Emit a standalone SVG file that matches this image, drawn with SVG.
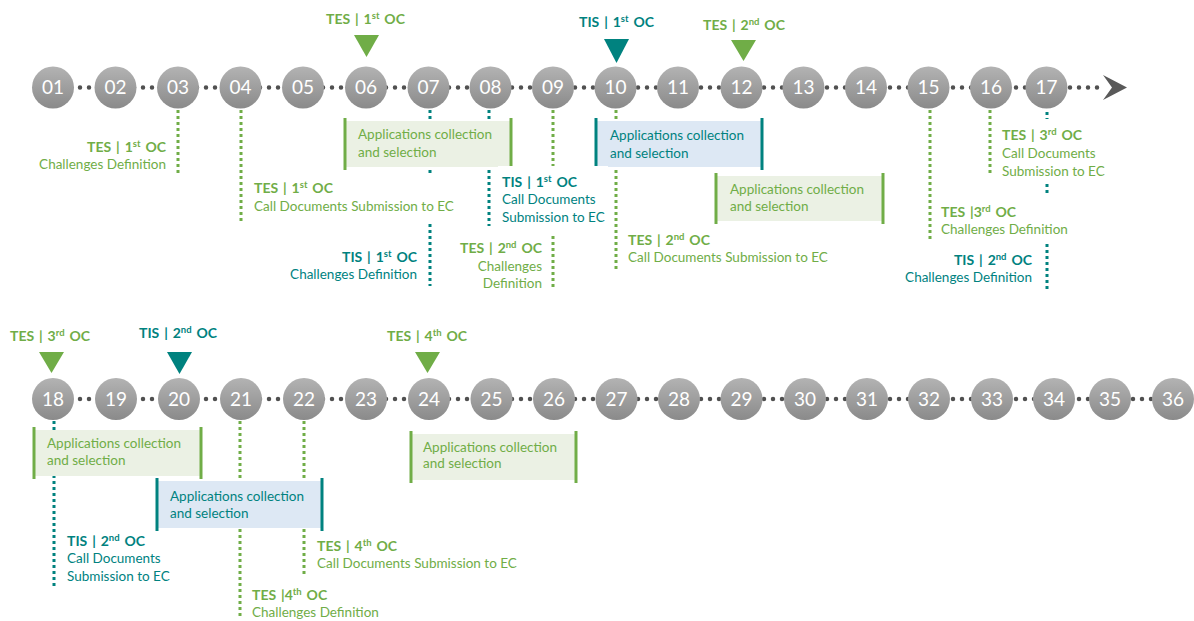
<svg xmlns="http://www.w3.org/2000/svg" width="1194" height="621" viewBox="0 0 1194 621">
  <defs>
    <linearGradient id="ball" x1="0" y1="0" x2="0" y2="1">
      <stop offset="0" stop-color="#b3b3b3"/>
      <stop offset="1" stop-color="#8a8a8a"/>
    </linearGradient>
    <style>
      text { font-family: Lato, "Open Sans", "Liberation Sans", sans-serif; }
      .num { fill: #ffffff; font-size: 19px; text-anchor: middle; }
      .track { stroke: #505050; stroke-width: 4.5; stroke-linecap: round; stroke-dasharray: 0 9; fill: none; }
      .vg { stroke: #70ad47; stroke-width: 3; stroke-dasharray: 3 3; fill: none; }
      .vt { stroke: #00827f; stroke-width: 3; stroke-dasharray: 3 3; fill: none; }
      .tg { fill: #70ad47; font-size: 13.5px; }
      .tt { fill: #00827f; font-size: 13.5px; }
      .b { font-weight: bold; font-size: 14px; word-spacing: 1.5px; }
      .end { text-anchor: end; }
      .sup { font-size: 9.5px; }
      .bg { fill: #ffffff; }
      .fillg { fill: #ebf1e4; }
      .fillb { fill: #dde8f4; }
      .edgeg { stroke: #70ad47; stroke-width: 3; }
      .edget { stroke: #00827f; stroke-width: 3; }
      .trig { fill: #70ad47; }
      .trit { fill: #00827f; }
    </style>
  </defs>

  <rect width="1194" height="621" fill="#ffffff"/>

  <!-- month tracks and drop lines -->
  <g id="connectors">
    <line class="track" x1="53" y1="87.5" x2="1101" y2="87.5"/>
    <polygon points="1103,75 1127,87.5 1103,100 1112,87.5" fill="#595959"/>
    <line class="track" x1="53" y1="399" x2="1173" y2="399"/>

    <line class="vg" x1="178" y1="110" x2="178" y2="175"/>
    <line class="vg" x1="241" y1="110" x2="241" y2="224"/>
    <line class="vt" x1="430" y1="110" x2="430" y2="286"/>
    <line class="vt" x1="489" y1="110" x2="489" y2="226"/>
    <line class="vg" x1="553" y1="110" x2="553" y2="290"/>
    <line class="vg" x1="616" y1="110" x2="616" y2="271"/>
    <line class="vg" x1="930" y1="110" x2="930" y2="239"/>
    <line class="vg" x1="990" y1="110" x2="990" y2="176"/>
    <line class="vt" x1="1047" y1="112" x2="1047" y2="290"/>

    <line class="vt" x1="54" y1="421" x2="54" y2="589"/>
    <line class="vg" x1="240" y1="421" x2="240" y2="616"/>
    <line class="vg" x1="304" y1="421" x2="304" y2="574"/>
  </g>

  <!-- months, first row -->
  <g id="m01"><circle cx="53" cy="87.5" r="21" fill="url(#ball)"/><text class="num" x="53" y="94">01</text></g>
  <g id="m02"><circle cx="115.5" cy="87.5" r="21" fill="url(#ball)"/><text class="num" x="115.5" y="94">02</text></g>
  <g id="m03"><circle cx="178" cy="87.5" r="21" fill="url(#ball)"/><text class="num" x="178" y="94">03</text></g>
  <g id="m04"><circle cx="240.5" cy="87.5" r="21" fill="url(#ball)"/><text class="num" x="240.5" y="94">04</text></g>
  <g id="m05"><circle cx="303" cy="87.5" r="21" fill="url(#ball)"/><text class="num" x="303" y="94">05</text></g>
  <g id="m06"><circle cx="366" cy="87.5" r="21" fill="url(#ball)"/><text class="num" x="366" y="94">06</text></g>
  <g id="m07"><circle cx="428.5" cy="87.5" r="21" fill="url(#ball)"/><text class="num" x="428.5" y="94">07</text></g>
  <g id="m08"><circle cx="490.5" cy="87.5" r="21" fill="url(#ball)"/><text class="num" x="490.5" y="94">08</text></g>
  <g id="m09"><circle cx="553" cy="87.5" r="21" fill="url(#ball)"/><text class="num" x="553" y="94">09</text></g>
  <g id="m10"><circle cx="615.5" cy="87.5" r="21" fill="url(#ball)"/><text class="num" x="615.5" y="94">10</text></g>
  <g id="m11"><circle cx="678" cy="87.5" r="21" fill="url(#ball)"/><text class="num" x="678" y="94">11</text></g>
  <g id="m12"><circle cx="741.5" cy="87.5" r="21" fill="url(#ball)"/><text class="num" x="741.5" y="94">12</text></g>
  <g id="m13"><circle cx="803.5" cy="87.5" r="21" fill="url(#ball)"/><text class="num" x="803.5" y="94">13</text></g>
  <g id="m14"><circle cx="866" cy="87.5" r="21" fill="url(#ball)"/><text class="num" x="866" y="94">14</text></g>
  <g id="m15"><circle cx="928.5" cy="87.5" r="21" fill="url(#ball)"/><text class="num" x="928.5" y="94">15</text></g>
  <g id="m16"><circle cx="991" cy="87.5" r="21" fill="url(#ball)"/><text class="num" x="991" y="94">16</text></g>
  <g id="m17"><circle cx="1046.5" cy="87.5" r="21" fill="url(#ball)"/><text class="num" x="1046.5" y="94">17</text></g>

  <!-- months, second row -->
  <g id="m18"><circle cx="53" cy="399" r="21" fill="url(#ball)"/><text class="num" x="53" y="405.5">18</text></g>
  <g id="m19"><circle cx="116" cy="399" r="21" fill="url(#ball)"/><text class="num" x="116" y="405.5">19</text></g>
  <g id="m20"><circle cx="179" cy="399" r="21" fill="url(#ball)"/><text class="num" x="179" y="405.5">20</text></g>
  <g id="m21"><circle cx="241" cy="399" r="21" fill="url(#ball)"/><text class="num" x="241" y="405.5">21</text></g>
  <g id="m22"><circle cx="304" cy="399" r="21" fill="url(#ball)"/><text class="num" x="304" y="405.5">22</text></g>
  <g id="m23"><circle cx="366" cy="399" r="21" fill="url(#ball)"/><text class="num" x="366" y="405.5">23</text></g>
  <g id="m24"><circle cx="429" cy="399" r="21" fill="url(#ball)"/><text class="num" x="429" y="405.5">24</text></g>
  <g id="m25"><circle cx="491.5" cy="399" r="21" fill="url(#ball)"/><text class="num" x="491.5" y="405.5">25</text></g>
  <g id="m26"><circle cx="554" cy="399" r="21" fill="url(#ball)"/><text class="num" x="554" y="405.5">26</text></g>
  <g id="m27"><circle cx="616.5" cy="399" r="21" fill="url(#ball)"/><text class="num" x="616.5" y="405.5">27</text></g>
  <g id="m28"><circle cx="679" cy="399" r="21" fill="url(#ball)"/><text class="num" x="679" y="405.5">28</text></g>
  <g id="m29"><circle cx="741.5" cy="399" r="21" fill="url(#ball)"/><text class="num" x="741.5" y="405.5">29</text></g>
  <g id="m30"><circle cx="805" cy="399" r="21" fill="url(#ball)"/><text class="num" x="805" y="405.5">30</text></g>
  <g id="m31"><circle cx="867" cy="399" r="21" fill="url(#ball)"/><text class="num" x="867" y="405.5">31</text></g>
  <g id="m32"><circle cx="929" cy="399" r="21" fill="url(#ball)"/><text class="num" x="929" y="405.5">32</text></g>
  <g id="m33"><circle cx="992" cy="399" r="21" fill="url(#ball)"/><text class="num" x="992" y="405.5">33</text></g>
  <g id="m34"><circle cx="1054" cy="399" r="21" fill="url(#ball)"/><text class="num" x="1054" y="405.5">34</text></g>
  <g id="m35"><circle cx="1110" cy="399" r="21" fill="url(#ball)"/><text class="num" x="1110" y="405.5">35</text></g>
  <g id="m36"><circle cx="1173" cy="399" r="21" fill="url(#ball)"/><text class="num" x="1173" y="405.5">36</text></g>

  <!-- call openings -->
  <g id="open-tes1">
    <text class="tg b" x="326" y="24">TES | 1<tspan class="sup" dy="-5">st</tspan><tspan dy="5"> OC</tspan></text>
    <polygon class="trig" points="354,35 379,35 366.5,57"/>
  </g>
  <g id="open-tis1">
    <text class="tt b" x="579" y="27">TIS | 1<tspan class="sup" dy="-5">st</tspan><tspan dy="5"> OC</tspan></text>
    <polygon class="trit" points="604,39 629,39 616.5,63"/>
  </g>
  <g id="open-tes2">
    <text class="tg b" x="703" y="30">TES | 2<tspan class="sup" dy="-5">nd</tspan><tspan dy="5"> OC</tspan></text>
    <polygon class="trig" points="731,40 756,40 743.5,61"/>
  </g>
  <g id="open-tes3">
    <text class="tg b" x="10" y="341">TES | 3<tspan class="sup" dy="-5">rd</tspan><tspan dy="5"> OC</tspan></text>
    <polygon class="trig" points="39,352 64,352 51.5,373"/>
  </g>
  <g id="open-tis2">
    <text class="tt b" x="139" y="338">TIS | 2<tspan class="sup" dy="-5">nd</tspan><tspan dy="5"> OC</tspan></text>
    <polygon class="trit" points="167,352 192,352 179.5,374"/>
  </g>
  <g id="open-tes4">
    <text class="tg b" x="387" y="341">TES | 4<tspan class="sup" dy="-5">th</tspan><tspan dy="5"> OC</tspan></text>
    <polygon class="trig" points="415,352 440,352 427.5,373"/>
  </g>

  <!-- application windows -->
  <g id="apps-tes1">
    <rect class="fillg" x="345" y="121" width="166" height="46"/>
    <line class="edgeg" x1="345" y1="118" x2="345" y2="170"/>
    <line class="edgeg" x1="511" y1="118" x2="511" y2="170"/>
    <text class="tg" x="358" y="139">Applications collection</text>
    <text class="tg" x="358" y="157">and selection</text>
  </g>
  <g id="apps-tis1">
    <rect class="fillb" x="596" y="121" width="166" height="46"/>
    <line class="edget" x1="596" y1="118" x2="596" y2="170"/>
    <line class="edget" x1="762" y1="118" x2="762" y2="170"/>
    <text class="tt" x="610" y="140">Applications collection</text>
    <text class="tt" x="610" y="158">and selection</text>
  </g>
  <g id="apps-tes2">
    <rect class="fillg" x="716" y="176" width="167" height="45"/>
    <line class="edgeg" x1="716" y1="173" x2="716" y2="224"/>
    <line class="edgeg" x1="883" y1="173" x2="883" y2="224"/>
    <text class="tg" x="730" y="194">Applications collection</text>
    <text class="tg" x="730" y="211">and selection</text>
  </g>
  <g id="apps-tes3">
    <rect class="fillg" x="34" y="430" width="167" height="46"/>
    <line class="edgeg" x1="34" y1="427" x2="34" y2="479"/>
    <line class="edgeg" x1="201" y1="427" x2="201" y2="479"/>
    <text class="tg" x="47" y="448">Applications collection</text>
    <text class="tg" x="47" y="465">and selection</text>
  </g>
  <g id="apps-tis2">
    <rect class="fillb" x="157" y="481" width="165" height="47"/>
    <line class="edget" x1="157" y1="478" x2="157" y2="531"/>
    <line class="edget" x1="322" y1="478" x2="322" y2="531"/>
    <text class="tt" x="170" y="501">Applications collection</text>
    <text class="tt" x="170" y="518">and selection</text>
  </g>
  <g id="apps-tes4">
    <rect class="fillg" x="411" y="434" width="165" height="46"/>
    <line class="edgeg" x1="411" y1="431" x2="411" y2="483"/>
    <line class="edgeg" x1="576" y1="431" x2="576" y2="483"/>
    <text class="tg" x="423" y="452">Applications collection</text>
    <text class="tg" x="423" y="468">and selection</text>
  </g>

  <!-- milestone notes -->
  <g id="note-03">
    <text class="tg b end" x="166" y="152">TES | 1<tspan class="sup" dy="-5">st</tspan><tspan dy="5"> OC</tspan></text>
    <text class="tg end" x="166" y="169">Challenges Definition</text>
  </g>
  <g id="note-04">
    <rect class="bg" x="250" y="174" width="206" height="48"/>
    <text class="tg b" x="254" y="193">TES | 1<tspan class="sup" dy="-5">st</tspan><tspan dy="5"> OC</tspan></text>
    <text class="tg" x="254" y="211">Call Documents Submission to EC</text>
  </g>
  <g id="note-07">
    <text class="tt b end" x="417" y="262">TIS | 1<tspan class="sup" dy="-5">st</tspan><tspan dy="5"> OC</tspan></text>
    <text class="tt end" x="417" y="279">Challenges Definition</text>
  </g>
  <g id="note-08">
    <rect class="bg" x="498" y="166" width="110" height="68"/>
    <text class="tt b" x="502" y="187">TIS | 1<tspan class="sup" dy="-5">st</tspan><tspan dy="5"> OC</tspan></text>
    <text class="tt" x="502" y="204">Call Documents</text>
    <text class="tt" x="502" y="222">Submission to EC</text>
  </g>
  <g id="note-09">
    <text class="tg b end" x="542" y="253">TES | 2<tspan class="sup" dy="-5">nd</tspan><tspan dy="5"> OC</tspan></text>
    <text class="tg end" x="542" y="271">Challenges</text>
    <text class="tg end" x="542" y="288">Definition</text>
  </g>
  <g id="note-10">
    <text class="tg b" x="628" y="245">TES | 2<tspan class="sup" dy="-5">nd</tspan><tspan dy="5"> OC</tspan></text>
    <text class="tg" x="628" y="262">Call Documents Submission to EC</text>
  </g>
  <g id="note-15">
    <rect class="bg" x="937" y="194" width="134" height="50"/>
    <text class="tg b" x="941" y="217">TES |3<tspan class="sup" dy="-5">rd</tspan><tspan dy="5"> OC</tspan></text>
    <text class="tg" x="941" y="234">Challenges Definition</text>
  </g>
  <g id="note-16">
    <rect class="bg" x="998" y="119" width="110" height="65"/>
    <text class="tg b" x="1002" y="140">TES | 3<tspan class="sup" dy="-5">rd</tspan><tspan dy="5"> OC</tspan></text>
    <text class="tg" x="1002" y="158">Call Documents</text>
    <text class="tg" x="1002" y="176">Submission to EC</text>
  </g>
  <g id="note-17">
    <text class="tt b end" x="1032" y="265">TIS | 2<tspan class="sup" dy="-5">nd</tspan><tspan dy="5"> OC</tspan></text>
    <text class="tt end" x="1032" y="282">Challenges Definition</text>
  </g>
  <g id="note-18">
    <text class="tt b" x="67" y="546">TIS | 2<tspan class="sup" dy="-5">nd</tspan><tspan dy="5"> OC</tspan></text>
    <text class="tt" x="67" y="563">Call Documents</text>
    <text class="tt" x="67" y="581">Submission to EC</text>
  </g>
  <g id="note-21">
    <text class="tg b" x="252" y="600">TES |4<tspan class="sup" dy="-5">th</tspan><tspan dy="5"> OC</tspan></text>
    <text class="tg" x="252" y="617">Challenges Definition</text>
  </g>
  <g id="note-22">
    <text class="tg b" x="317" y="551">TES | 4<tspan class="sup" dy="-5">th</tspan><tspan dy="5"> OC</tspan></text>
    <text class="tg" x="317" y="568">Call Documents Submission to EC</text>
  </g>
</svg>
